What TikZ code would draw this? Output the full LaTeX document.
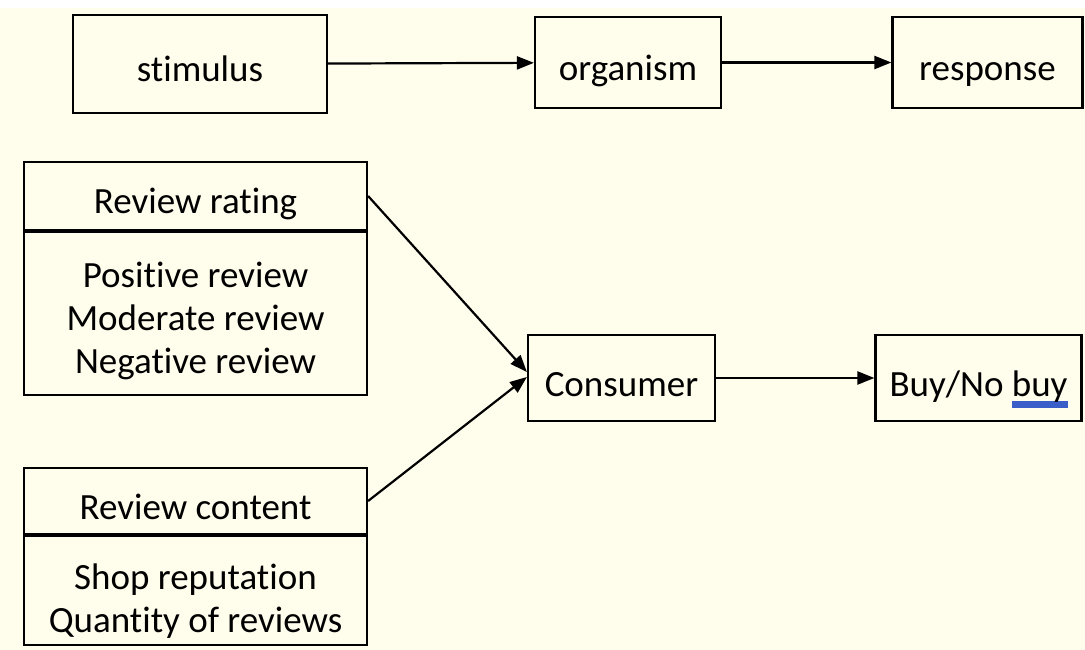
\documentclass[tikz,border=0pt]{standalone}
\usepackage{fontspec}
\setmainfont{Carlito}[Ligatures={NoCommon}]
\usetikzlibrary{positioning, arrows.meta}

\definecolor{paper}{HTML}{FFFDEC}
\definecolor{spellblue}{HTML}{3A5FC8}

\newcommand\spellmark[1]{\leavevmode\sbox0{#1}\rlap{\color{spellblue}\rule[-12pt]{\wd0}{7pt}}#1}
\newcommand\toppad[1]{\rule{0pt}{#1}}

\tikzset{
    box/.style={draw, line width=2.2pt, inner sep=0pt, align=center, font=\fontsize{37}{43}\selectfont},
    single/.style={box, text height=36pt, text depth=0pt},
    link/.style={line width=2.2pt, -{Triangle[length=17pt, width=13pt]}}
}

\begin{document}
\begin{tikzpicture}[x=1pt, y=-1pt]
        \useasboundingbox (0,0) rectangle (1085,650);
        \fill[white] (0,0) rectangle (1085,650);
        \fill[paper] (0,8) rectangle (1085,650);

        % S-O-R model
        \node[single, minimum width=254pt, minimum height=98pt] (stimulus) at (200,64) {stimulus};
        \node[single, minimum width=186pt, minimum height=91pt] (organism) at (628,62.5) {organism};
        \node[single, minimum width=190pt, minimum height=91pt] (response) at (987.5,62.5) {response};

        \draw[link] (stimulus) -- (organism);
        \draw[link] (organism) -- (response);

        % research model
        \node[single, minimum width=343pt, minimum height=68pt] (ratinghead) at (195.5,196) {Review rating};
        \node[box, minimum width=343pt, minimum height=163pt, below=0pt of ratinghead] (ratingbody) {\toppad{39pt}Positive review\\Moderate review\\Negative review};
        \node[single, minimum width=343pt, minimum height=66pt] (contenthead) at (195.5,501) {Review content};
        \node[box, minimum width=343pt, minimum height=109pt, below=0pt of contenthead] (contentbody) {\toppad{46pt}Shop reputation\\Quantity of reviews};

        \node[single, minimum width=187pt, minimum height=86pt] (consumer) at (621.5,378) {Consumer};
        \node[single, minimum width=206pt, minimum height=86pt] (decision) at (978.5,378) {Buy/No \spellmark{buy}};

        \draw[link] (ratinghead.east) -- ([yshift=6pt]consumer.west);
        \draw[link] (contenthead.east) -- ([yshift=1pt]consumer.west);
        \draw[link] (consumer) -- (decision);
    \end{tikzpicture}
\end{document}
